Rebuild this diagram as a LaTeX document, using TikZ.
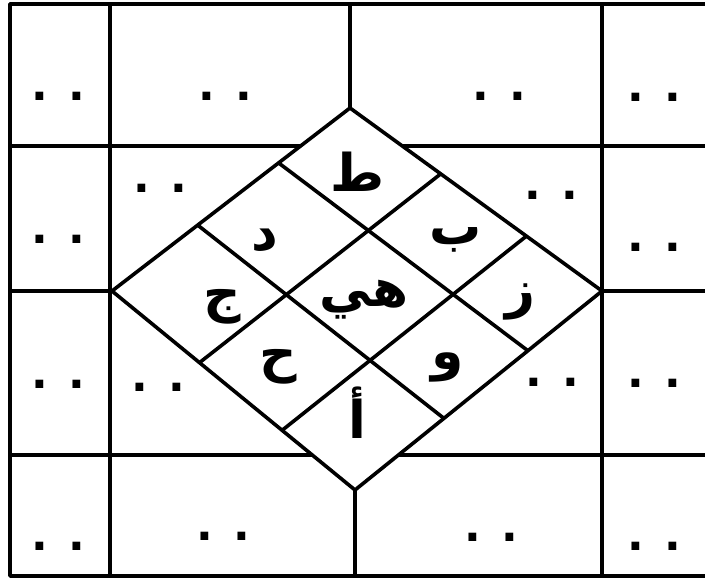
\documentclass[tikz,border=0pt]{standalone}
\usepackage{fontspec}
\newfontfamily\arabicfont[Script=Arabic]{DejaVu Sans}
\TeXXeTstate=1
\usetikzlibrary{calc}

\begin{document}
\begin{tikzpicture}[x=0.5pt,y=-0.5pt,line width=1.8pt,line join=round,
    harf/.style={font=\arabicfont\bfseries\fontsize{26}{30}\selectfont},
    pair/.style={font=\arabicfont\bfseries\fontsize{22}{26}\selectfont,
        anchor=base, yshift=-2.5pt}]
    \useasboundingbox (0,0) rectangle (705,583);

    % Frame and rows
    \draw (705,4) -- (10,4) -- (10,576) -- (705,576);
    \foreach \y in {146,291,455}
        \draw (10,\y) -- (705,\y);
    \draw (110,4) -- (110,576);
    \draw (602,4) -- (602,576);

    % Diamond
    \coordinate (L) at (112,291);
    \coordinate (T) at (350,108);
    \coordinate (R) at (602,291);
    \coordinate (B) at (355,490);
    \draw (350,4) -- (T);
    \draw (B) -- (355,576);
    \filldraw[fill=white] (L) -- (T) -- (R) -- (B) -- cycle;

    % Cells of the diamond
    \foreach \s in {0.36,0.70} {
        \draw ($(L)!\s!(T)$) -- ($(B)!\s!(R)$);
        \draw ($(L)!\s!(B)$) -- ($(T)!\s!(R)$);
    }

    % Letters
    \node[harf] (ta)   at (357,172) {\beginR ط\endR};
    \node[harf] (dal)  at (265,240) {\beginR د\endR};
    \node[harf] (ba)   at (456,240) {\beginR ب\endR};
    \node[harf] (jim)  at (222,307) {\beginR ج\endR};
    \node[harf] (hay)  at (364,300) {\beginR هي\endR};
    \node[harf] (zay)  at (520,302) {\beginR ز\endR};
    \node[harf] (ha)   at (278,367) {\beginR ح\endR};
    \node[harf] (waw)  at (448,367) {\beginR و\endR};
    \node[harf] (alif) at (357,413) {\beginR أ\endR};

    % Empty cells
    \foreach \x/\y [count=\i] in {58/95,225/95,499/95,654/97,
            58/238,160/187,551/194,654/246,
            58/383,158/386,552/381,654/382,
            58/545,223/535,491/536,654/545}
        \node[pair] (p\i) at (\x,\y) {. .};

\end{tikzpicture}
\end{document}
